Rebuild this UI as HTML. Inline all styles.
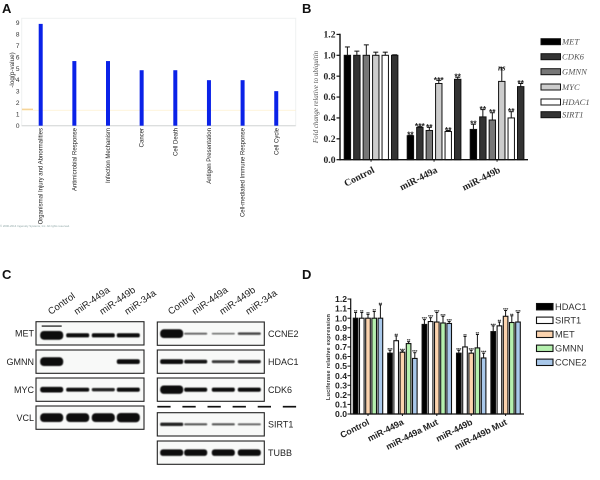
<!DOCTYPE html>
<html>
<head>
<meta charset="utf-8">
<style>
html,body{margin:0;padding:0;background:#fff}
svg{display:block}
</style>
</head>
<body>
<svg id="fig" xmlns="http://www.w3.org/2000/svg" width="600" height="480" viewBox="0 0 600 480">
<defs>
<filter id="soft" x="-20%" y="-60%" width="140%" height="220%"><feGaussianBlur stdDeviation="0.6"/></filter>
<filter id="softer" x="-20%" y="-20%" width="140%" height="140%"><feGaussianBlur stdDeviation="0.3"/></filter>
</defs>
<rect width="600" height="480" fill="#fff"/>
<g font-family="'Liberation Sans',sans-serif" font-weight="bold" font-size="13" fill="#111">
<text x="2" y="13">A</text>
<text x="302" y="13">B</text>
<text x="2" y="279">C</text>
<text x="302" y="279">D</text>
</g>
<g id="panelA"></g>
<g id="panelB"></g>
<g id="panelC"></g>
<g id="panelD"></g>
</svg>
<script>
/* Panel A data */
const aCategories = ['Organismal Injury and Abnormalities','Antimicrobial Response','Infection Mechanism','Cancer','Cell Death','Antigen Presentation','Cell-mediated Immune Response','Cell Cycle'];
const aValues = [8.9,5.65,5.65,4.85,4.85,3.98,3.98,3.02];
const aTicks = [0,1,2,3,4,5,6,7,8,9];
const aThreshold = 1.35;

/* Panel B data */
const bGroups = ['Control','miR-449a','miR-449b'];
const bSeries = ['MET','CDK6','GMNN','MYC','HDAC1','SIRT1'];
const bFills = ['#000','#333','#777','#ccc','#fff','#333'];
const bValues = [[1,1,1,1,1,1],[.23,.31,.28,.73,.27,.77],[.29,.41,.38,.75,.40,.70]];
const bErrors = [[.08,.04,.10,.03,.03,.005],[.005,.01,.03,.03,.01,.02],[.05,.07,.07,.13,.06,.03]];
const bSig = [['','','','','',''],['**','***','**','***','**','**'],['**','**','**','ns','**','**']];
const bTicks = [0,.2,.4,.6,.8,1,1.2];

/* Panel C data: relative band strength per lane */
const cLanes = ['Control','miR-449a','miR-449b','miR-34a'];
const cLeftProteins = ['MET','GMNN','MYC','VCL'];
const cLeftStrength = [[1,.42,.42,.42],[1,0,0,.5],[.6,.38,.32,.42],[1,1,1,1.05]];
const cRightProteins = ['CCNE2','HDAC1','CDK6','SIRT1','TUBB'];
const cRightStrength = [[1,.14,.1,.22],[.5,.36,.26,.32],[.95,.42,.42,.42],[.32,.17,.17,.14],[.72,.72,.72,.72]];

/* Panel D data */
const dGroups = ['Control','miR-449a','miR-449a Mut','miR-449b','miR-449b Mut'];
const dSeries = ['HDAC1','SIRT1','MET','GMNN','CCNE2'];
const dFills = ['#000','#fff','#fbd3ae','#b5f0ae','#a9c8ea'];
const dValues = [[1,1,1,1,1],[.635,.765,.645,.735,.58],[.935,.965,.96,.95,.945],[.635,.70,.635,.69,.585],[.86,.92,1.02,.955,.96]];
const dErrors = [[.06,.06,.04,.07,.14],[.03,.05,.015,.02,.06],[.05,.04,.10,.07,.02],[.03,.11,.03,.14,.05],[.06,.04,.06,.07,.10]];
const dSig = [['**','**','**','**','**'],['***','**','***','**','***'],['***','***','***','***','***'],['***','**','***','**','***'],['***','**','***','**','***']];
const dTicks = [0,.1,.2,.3,.4,.5,.6,.7,.8,.9,1,1.1,1.2];

const NS = 'http://www.w3.org/2000/svg';
function mk(parent, tag, attrs, txt){
  const el = document.createElementNS(NS, tag);
  for(const k in attrs) el.setAttribute(k, attrs[k]);
  if(txt !== undefined) el.textContent = txt;
  parent.appendChild(el);
  return el;
}
function named(el, name){
  
  
  return el;
}
const SANS = "'Liberation Sans',sans-serif";
const SERIF = "'Liberation Serif',serif";

/* ---------- Panel A ---------- */
(function(){
  const g = document.getElementById('panelA');
  const y = v => 125.7 - v * 11.44;
  const x = i => 40.7 + i * 33.65;
  named(mk(g,'rect',{x:21.7,y:18.3,width:274,height:107.4,fill:'none',stroke:'#eef1f1','stroke-width':1}),'plot-frame');
  named(mk(g,'line',{x1:21.7,x2:295.7,y1:y(0),y2:y(0),stroke:'#d4d6d6','stroke-width':1}),'x-axis');
  aTicks.forEach(t=>{
    named(mk(g,'text',{x:17.7,y:y(t)+2.3,'font-family':SANS,'font-size':6.5,fill:'#333','text-anchor':'middle'},String(t)),'y-tick-label');
  });
  named(mk(g,'text',{transform:'translate(14,70) rotate(-90)','font-family':SANS,'font-size':6.3,fill:'#333','text-anchor':'middle'},'-log(p-value)'),'y-axis-title');
  named(mk(g,'line',{x1:21.7,x2:295.7,y1:y(aThreshold),y2:y(aThreshold),stroke:'#fdf0cf','stroke-width':0.8}),'threshold-line');
  named(mk(g,'rect',{x:22,y:y(aThreshold)-1.6,width:11,height:1.2,fill:'#f5cf8a'}),'threshold-label');
  aValues.forEach((v,i)=>{
    named(mk(g,'rect',{x:x(i)-2,y:y(v),width:4,height:y(0)-y(v),fill:'#0a22e8'}),'bar');
    named(mk(g,'text',{transform:`translate(${x(i)+2},128) rotate(-90)`,'font-family':SANS,'font-size':6,fill:'#222','text-anchor':'end'},aCategories[i]),'category-label');
  });
  named(mk(g,'text',{x:0,y:227,'font-family':SANS,'font-size':2.8,fill:'#8fa6a6',textLength:70},'© 2000-2014 Ingenuity Systems, Inc. All rights reserved.'),'copyright-note');
})();

/* ---------- Grouped bar helper ---------- */
function groupedBars(g, o){
  o.values.forEach((row,gi)=>{
    row.forEach((v,si)=>{
      const cx = o.x(gi,si), top = o.y(v), et = o.y(v + o.errors[gi][si]);
      named(mk(g,'line',{x1:cx,x2:cx,y1:top,y2:et,stroke:'#111','stroke-width':1}),'error-bar');
      named(mk(g,'line',{x1:cx-o.cap,x2:cx+o.cap,y1:et,y2:et,stroke:'#111','stroke-width':1}),'error-cap');
      named(mk(g,'rect',{x:cx-o.w/2,y:top,width:o.w,height:o.y(0)-top,fill:o.fills[si],stroke:'#111','stroke-width':o.sw}),'bar');
      const s = o.sig[gi][si];
      if(s){
        named(mk(g,'text',{x:cx,y:et+o.sigDy,'font-family':s==='ns'?SERIF:SANS,'font-size':s==='ns'?o.nsSize:o.sigSize,'font-weight':'bold','font-style':s==='ns'?'italic':'normal',fill:'#222','text-anchor':'middle'},s),'significance-label');
      }
    });
  });
}

/* ---------- Panel B ---------- */
(function(){
  const g = document.getElementById('panelB');
  const y = v => 159.7 - v * 104.4;
  const x = (gi,si) => 347.4 + gi * 63 + si * 9.46;
  groupedBars(g,{values:bValues,errors:bErrors,sig:bSig,fills:bFills,x:x,y:y,w:6.4,sw:1,cap:2.5,sigDy:2.5,sigSize:8.5,nsSize:8});
  named(mk(g,'line',{x1:340,x2:340,y1:y(1.2)-.7,y2:y(0)+.7,stroke:'#111','stroke-width':1.4}),'y-axis');
  named(mk(g,'line',{x1:340,x2:528,y1:y(0),y2:y(0),stroke:'#111','stroke-width':1.4}),'x-axis');
  bTicks.forEach(t=>{
    named(mk(g,'line',{x1:336.5,x2:340,y1:y(t),y2:y(t),stroke:'#111','stroke-width':1.2}),'y-tick');
    named(mk(g,'text',{x:335.5,y:y(t)+3.1,'font-family':SERIF,'font-size':9.6,'font-weight':'bold',fill:'#222','text-anchor':'end'},t.toFixed(1)),'y-tick-label');
  });
  bGroups.forEach((n,i)=>{
    const c = x(i,2.5);
    named(mk(g,'line',{x1:c,x2:c,y1:y(0),y2:y(0)+2,stroke:'#111','stroke-width':1}),'x-tick');
    named(mk(g,'text',{transform:`translate(${c+4},172) rotate(-27)`,'font-family':SERIF,'font-size':9.8,'font-weight':'bold',fill:'#222','text-anchor':'end'},n),'x-tick-label');
  });
  named(mk(g,'text',{transform:'translate(318,97) rotate(-90)','font-family':SERIF,'font-size':7,'font-style':'italic',fill:'#555','text-anchor':'middle'},'Fold change relative to ubiquitin'),'y-axis-title');
  const ly = i => [41.7,56.7,71.7,87,102,114.7][i];
  bSeries.forEach((n,i)=>{
    named(mk(g,'rect',{x:541,y:ly(i)-3,width:19.5,height:6,fill:bFills[i],stroke:'#111','stroke-width':1}),'legend-swatch');
    named(mk(g,'text',{x:562,y:ly(i)+2.8,'font-family':SERIF,'font-size':8.6,'font-style':'italic',fill:'#555'},n),'legend-label');
  });
})();

/* ---------- Panel C ---------- */
(function(){
  const g = document.getElementById('panelC');
  const leftX = [51.7,77.7,103.3,128.3];
  const rightX = [171.7,195.7,223.3,249.3];
  const leftY = [321.7,350,378,406];
  const rightY = [322,350,378,412.7,441];
  function blot(names,strength,lanes,rows,fx,fw,labelX,anchor){
    names.forEach((p,r)=>{
      const top = rows[r], h = 23.3, cy = top + h/2;
      named(mk(g,'rect',{x:fx,y:top,width:fw,height:h,fill:'#f8f9f8',stroke:'#222','stroke-width':1.1}),'blot-frame');
      strength[r].forEach((s,l)=>{
        if(s<=0) return;
        const bh = 0.8 + 8*s;
        const op = Math.min(1, .42 + s*1.5);
        const b = named(mk(g,'rect',{x:lanes[l]-11.5,y:cy-bh/2+(p==='MET'?2:0),width:23,height:bh,rx:bh/2.4,fill:'#0a0a0a',opacity:op,filter:'url(#soft)'}),'blot-band');
        b.setAttribute('data-lane', cLanes[l]);
      });
      if(p==='MET'){
        named(mk(g,'rect',{x:lanes[0]-10,y:top+3.6,width:20,height:1.6,fill:'#222',opacity:.8,filter:'url(#softer)'}),'blot-band-upper');
      }
      named(mk(g,'text',{x:labelX,y:cy+3.2,'font-family':SANS,'font-size':9,fill:'#222','text-anchor':anchor},p),'protein-label');
    });
    cLanes.forEach((n,l)=>{
      named(mk(g,'text',{transform:`translate(${lanes[l]-1},315) rotate(-35)`,'font-family':SANS,'font-size':9.5,fill:'#222'},n),'lane-label');
    });
  }
  blot(cLeftProteins,cLeftStrength,leftX,leftY,36,108,34,'end');
  blot(cRightProteins,cRightStrength,rightX,rightY,157.3,107,268,'start');
  [0,1,2,3,4,5].forEach(i=>{
    named(mk(g,'line',{x1:157.3+i*25.1,x2:170.6+i*25.1,y1:406.7,y2:406.7,stroke:'#111','stroke-width':1.7}),'divider-dash');
  });
})();

/* ---------- Panel D ---------- */
(function(){
  const g = document.getElementById('panelD');
  const y = v => 414 - v * 95.8;
  const x = (gi,si) => 355.6 + gi * 34.4 + si * 6.2;
  groupedBars(g,{values:dValues,errors:dErrors,sig:dSig,fills:dFills,x:x,y:y,w:4.6,sw:1.1,cap:1.5,sigDy:0.5,sigSize:4.5,nsSize:4.5});
  named(mk(g,'line',{x1:350.7,x2:350.7,y1:y(1.2)-.6,y2:y(0)+.6,stroke:'#111','stroke-width':1.2}),'y-axis');
  named(mk(g,'line',{x1:350.7,x2:524,y1:y(0),y2:y(0),stroke:'#111','stroke-width':1.2}),'x-axis');
  dTicks.forEach(t=>{
    named(mk(g,'line',{x1:347.5,x2:350.7,y1:y(t),y2:y(t),stroke:'#111','stroke-width':1}),'y-tick');
    named(mk(g,'text',{x:347,y:y(t)+3.1,'font-family':SANS,'font-size':8.6,'font-weight':'bold',fill:'#222','text-anchor':'end'},t.toFixed(1)),'y-tick-label');
  });
  dGroups.forEach((n,i)=>{
    const c = x(i,2);
    named(mk(g,'line',{x1:c,x2:c,y1:y(0),y2:y(0)+2,stroke:'#111','stroke-width':1}),'x-tick');
    named(mk(g,'text',{transform:`translate(${c+2},424) rotate(-27)`,'font-family':SANS,'font-size':8.8,'font-weight':'bold',fill:'#222','text-anchor':'end'},n),'x-tick-label');
  });
  named(mk(g,'text',{transform:'translate(330,357) rotate(-90)','font-family':SANS,'font-size':5.6,'font-weight':'bold',fill:'#333','text-anchor':'middle','letter-spacing':'.2'},'Luciferase relative expression'),'y-axis-title');
  const ly = i => [306.7,320.3,334.3,348.3,362.3][i];
  dSeries.forEach((n,i)=>{
    named(mk(g,'rect',{x:536.5,y:ly(i)-3.2,width:16.5,height:6.4,fill:dFills[i],stroke:'#111','stroke-width':1.1}),'legend-swatch');
    named(mk(g,'text',{x:555,y:ly(i)+3.2,'font-family':SANS,'font-size':9.3,fill:'#333'},n),'legend-label');
  });
})();
</script>
</body>
</html>
